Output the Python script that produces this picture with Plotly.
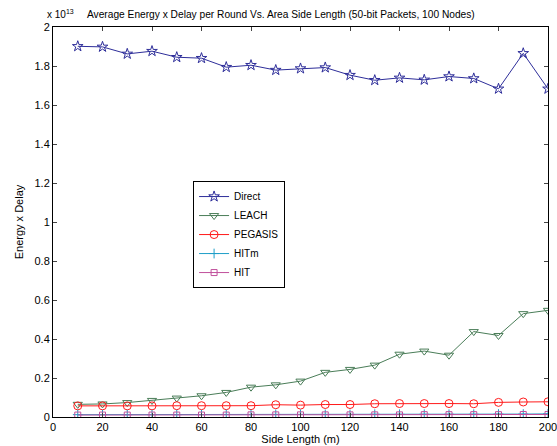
import plotly.graph_objects as go

x = [10, 20, 30, 40, 50, 60, 70, 80, 90, 100, 110, 120, 130, 140, 150, 160, 170, 180, 190, 200]
# values in units of 1e13
direct = [1.901, 1.898, 1.862, 1.876, 1.845, 1.840, 1.794, 1.804, 1.779, 1.787,
          1.792, 1.753, 1.727, 1.739, 1.729, 1.746, 1.736, 1.683, 1.865, 1.683]
leach = [0.065, 0.067, 0.074, 0.085, 0.097, 0.109, 0.126, 0.153, 0.165, 0.184,
         0.229, 0.244, 0.266, 0.322, 0.338, 0.317, 0.438, 0.418, 0.530, 0.547]
pegasis = [0.057, 0.057, 0.057, 0.057, 0.058, 0.058, 0.058, 0.058, 0.063, 0.061,
           0.064, 0.064, 0.068, 0.069, 0.069, 0.069, 0.068, 0.075, 0.077, 0.078]
hitm = [0.012, 0.012, 0.012, 0.012, 0.012, 0.012, 0.013, 0.013, 0.013, 0.013,
        0.013, 0.013, 0.014, 0.014, 0.014, 0.014, 0.014, 0.015, 0.015, 0.016]
hit = [0.010, 0.010, 0.010, 0.010, 0.010, 0.010, 0.010, 0.011, 0.011, 0.011,
       0.011, 0.011, 0.011, 0.011, 0.012, 0.012, 0.012, 0.012, 0.013, 0.013]

x_ticks = [0, 20, 40, 60, 80, 100, 120, 140, 160, 180, 200]
y_ticks = [0, 0.2, 0.4, 0.6, 0.8, 1, 1.2, 1.4, 1.6, 1.8, 2]
y_tick_labels = ["0", "0.2", "0.4", "0.6", "0.8", "1", "1.2", "1.4", "1.6", "1.8", "2"]

series = [
    ("Direct", direct, "#2e2e9a", "star-open", 8),
    ("LEACH", leach, "#4a7d58", "triangle-down-open", 8),
    ("PEGASIS", pegasis, "#ff1a1a", "circle-open", 8),
    ("HITm", hitm, "#1e9ec8", "cross-thin-open", 7),
    ("HIT", hit, "#c0509c", "square-open", 6),
]

fig = go.Figure()
for name, vals, color, sym, size in series:
    fig.add_trace(go.Scatter(
        x=x, y=vals, name=name, mode="lines+markers",
        line=dict(color=color, width=1),
        marker=dict(symbol=sym, size=size, color=color, line=dict(color=color, width=1)),
    ))

font = "Liberation Sans, Arial, sans-serif"
fig.update_layout(
    width=557, height=446,
    margin=dict(l=53, r=9, t=27, b=29),
    paper_bgcolor="white", plot_bgcolor="white",
    font=dict(family=font, size=11, color="black"),
    showlegend=True,
    legend=dict(x=0.283, y=0.605, xanchor="left", yanchor="top",
                bordercolor="black", borderwidth=1, bgcolor="white",
                font=dict(size=10), tracegroupgap=0, itemwidth=30),
    xaxis=dict(range=[0, 200], tickvals=x_ticks, ticks="inside", ticklen=4,
               showline=True, linecolor="black", linewidth=1, mirror="ticks",
               showgrid=False, zeroline=False, automargin=False,
               ticklabeloverflow="allow",
               tickfont=dict(size=11),
               title=dict(text="Side Length (m)", standoff=0, font=dict(size=11))),
    yaxis=dict(range=[0, 2], tickvals=y_ticks, ticktext=y_tick_labels, ticks="inside", ticklen=4,
               showline=True, linecolor="black", linewidth=1, mirror="ticks",
               showgrid=False, zeroline=False, automargin=False,
               ticklabeloverflow="allow",
               tickfont=dict(size=11),
               title=dict(text="Energy x Delay", standoff=8, font=dict(size=11))),
    annotations=[
        dict(text="x 10<sup>13</sup>", xref="paper", yref="paper", x=-0.016, y=1.0,
             xanchor="left", yanchor="bottom", showarrow=False, font=dict(size=10), yshift=5),
        dict(text="Average Energy x Delay per Round Vs. Area Side Length (50-bit Packets, 100 Nodes)",
             xref="paper", yref="paper", x=0.461, y=1.0, xanchor="center", yanchor="bottom",
             showarrow=False, font=dict(size=10.2), yshift=5),
    ],
)

fig.write_html("out.html", config={"displayModeBar": False},
               post_script="document.body.style.margin='0';document.body.style.overflow='hidden';")
